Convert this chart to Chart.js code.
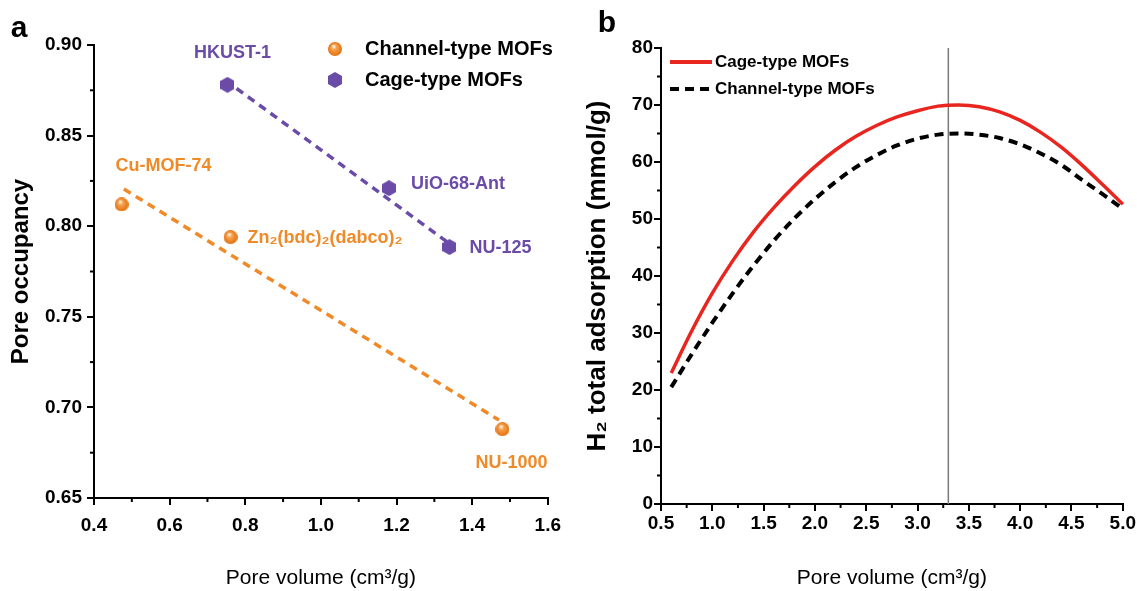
<!DOCTYPE html>
<html>
<head>
<meta charset="utf-8">
<script src="https://cdn.jsdelivr.net/npm/chart.js@4.4.1/dist/chart.umd.min.js"></script>
<style>
  html, body { margin: 0; padding: 0; background: #fff; }
  #wrap { position: relative; width: 1137px; height: 591px; }
  #chartA { position: absolute; left: 0; top: 0; }
  #chartB { position: absolute; left: 570px; top: 0; }
</style>
</head>
<body>
<div id="wrap">
  <canvas id="chartA" width="570" height="591"></canvas>
  <canvas id="chartB" width="567" height="591"></canvas>
</div>
<script>
// ── Panel a : pore occupancy vs pore volume ────────────────────────────────
const channelNames = ['Cu-MOF-74', 'Zn₂(bdc)₂(dabco)₂', 'NU-1000'];
const channelVol   = [0.473, 0.761, 1.48];
const channelOcc   = [0.812, 0.794, 0.688];
const cageNames    = ['HKUST-1', 'UiO-68-Ant', 'NU-125'];
const cageVol      = [0.753, 1.18, 1.34];
const cageOcc      = [0.878, 0.821, 0.7885];
// dashed trend lines (end points)
const channelFitVol = [0.479, 1.471];
const channelFitOcc = [0.8205, 0.693];
const cageFitVol    = [0.777, 1.336];
const cageFitOcc    = [0.876, 0.791];
const aTicksX = [0.4, 0.6, 0.8, 1.0, 1.2, 1.4, 1.6];
const aTicksY = [0.65, 0.70, 0.75, 0.80, 0.85, 0.90];

// ── Panel b : H2 total adsorption vs pore volume ───────────────────────────
const poreVol    = [0.6, 0.8, 1.0, 1.2, 1.4, 1.6, 1.8, 2.0, 2.2, 2.4, 2.6, 2.8,
                    3.0, 3.2, 3.4, 3.6, 3.8, 4.0, 4.2, 4.4, 4.6, 4.8, 5.0];
const cageAds    = [23.0, 30.4, 37.0, 42.7, 47.7, 52.0, 55.8, 59.2, 62.1, 64.5, 66.4, 67.9,
                    69.0, 69.8, 70.0, 69.7, 68.8, 67.3, 65.2, 62.6, 59.5, 56.1, 52.6];
const channelAds = [20.5, 26.3, 31.8, 37.0, 41.8, 46.2, 50.1, 53.5, 56.5, 59.1, 61.2, 62.9,
                    64.1, 64.8, 65.0, 64.8, 64.2, 63.1, 61.5, 59.5, 56.9, 54.4, 51.8];
const peakVol = 3.3;
const bTicksX = [0.5, 1.0, 1.5, 2.0, 2.5, 3.0, 3.5, 4.0, 4.5, 5.0];
const bTicksY = [0, 10, 20, 30, 40, 50, 60, 70, 80];

const FONT   = "'Liberation Sans', Arial, sans-serif";
const ORANGE = '#f08a28';
const PURPLE = '#6a4ba8';
const RED    = '#e8261f';

const xy = (xs, ys) => xs.map((x, i) => ({ x, y: ys[i] }));

// ── Marker images ──────────────────────────────────────────────────────────
function makeBall(r) {
  const c = document.createElement('canvas');
  c.width = c.height = 2 * r;
  const g = c.getContext('2d');
  const grad = g.createRadialGradient(r * 0.8, r * 0.6, r * 0.1, r, r, r);
  grad.addColorStop(0, '#fff1e0');
  grad.addColorStop(0.3, '#f7a14c');
  grad.addColorStop(1, '#e2700f');
  g.fillStyle = grad;
  g.beginPath(); g.arc(r, r, r, 0, Math.PI * 2); g.fill();
  return c;
}

function makeHex(w, h) {
  const c = document.createElement('canvas');
  c.width = w; c.height = h;
  const g = c.getContext('2d');
  g.fillStyle = PURPLE;
  g.beginPath();
  g.moveTo(w / 2, 0);
  g.lineTo(w, h * 0.25); g.lineTo(w, h * 0.75);
  g.lineTo(w / 2, h);
  g.lineTo(0, h * 0.75); g.lineTo(0, h * 0.25);
  g.closePath(); g.fill();
  return c;
}

const ballImg = makeBall(7);
const hexImg  = makeHex(14, 16);

// ── Plugins: minor ticks, point labels, legends, panel letters ─────────────
const extras = {
  id: 'extras',
  afterDraw(chart, args, opts) {
    const ctx = chart.ctx;
    const { x, y } = chart.scales;
    const area = chart.chartArea;
    ctx.save();

    // minor ticks, halfway between the major ones
    ctx.strokeStyle = '#000';
    ctx.lineWidth = 2;
    const mids = t => t.slice(1).map((v, i) => (v + t[i]) / 2);
    mids(opts.ticksX).forEach(v => {
      const px = x.getPixelForValue(v);
      ctx.beginPath(); ctx.moveTo(px, area.bottom); ctx.lineTo(px, area.bottom + 4); ctx.stroke();
    });
    mids(opts.ticksY).forEach(v => {
      const py = y.getPixelForValue(v);
      ctx.beginPath(); ctx.moveTo(area.left, py); ctx.lineTo(area.left - 4, py); ctx.stroke();
    });

    // point labels
    ctx.textBaseline = 'middle';
    (opts.labels || []).forEach(l => {
      const pt = chart.getDatasetMeta(l.ds).data[l.idx];
      ctx.font = 'bold 18px ' + FONT;
      ctx.fillStyle = l.color;
      ctx.textAlign = l.align;
      ctx.fillText(l.text, pt.x + l.dx, pt.y + l.dy);
    });

    // legend
    ctx.font = 'bold ' + opts.legendSize + 'px ' + FONT;
    ctx.textAlign = 'left';
    ctx.fillStyle = '#000';
    (opts.legend || []).forEach(item => {
      if (item.img) {
        ctx.drawImage(item.img, item.x - item.img.width / 2, item.y - item.img.height / 2);
      } else {
        ctx.strokeStyle = item.color;
        ctx.lineWidth = 4;
        ctx.setLineDash(item.dash || []);
        ctx.beginPath(); ctx.moveTo(item.x, item.y); ctx.lineTo(item.x2, item.y); ctx.stroke();
        ctx.setLineDash([]);
      }
      ctx.fillText(item.text, item.tx, item.y);
    });

    // panel letter
    ctx.font = 'bold ' + opts.letter.size + 'px ' + FONT;
    ctx.textAlign = 'center';
    ctx.fillText(opts.letter.text, opts.letter.x, opts.letter.y);
    ctx.restore();
  },
};

// ── Shared axis builder ────────────────────────────────────────────────────
function axis(ticks, fmt, title, o) {
  return {
    type: 'linear',
    min: ticks[0],
    max: ticks[ticks.length - 1],
    afterBuildTicks: s => { s.ticks = ticks.map(v => ({ value: v })); },
    afterFit: s => { if (o.width) s.width = o.width; if (o.height) s.height = o.height; },
    border: { display: true, color: '#000', width: 2 },
    grid: { drawOnChartArea: false, drawTicks: true, tickLength: 7, color: '#000', lineWidth: 2 },
    ticks: {
      color: '#000',
      padding: o.pad,
      autoSkip: false,
      maxRotation: 0,
      font: { family: FONT, size: 19, weight: 'bold' },
      callback: v => fmt(v),
    },
    title: {
      display: true,
      text: title,
      color: '#000',
      padding: o.titlePad,
      font: { family: FONT, size: o.titleSize, weight: o.titleWeight, lineHeight: 1.2 },
    },
  };
}

// ── Chart a ────────────────────────────────────────────────────────────────
new Chart(document.getElementById('chartA'), {
  type: 'scatter',
  data: {
    datasets: [
      { data: xy(channelVol, channelOcc), pointStyle: ballImg, order: 0 },
      { data: xy(cageVol, cageOcc), pointStyle: hexImg, order: 0 },
      { data: xy(channelFitVol, channelFitOcc), showLine: true, borderColor: ORANGE,
        borderWidth: 3.5, borderDash: [8, 6], pointRadius: 0, order: 1 },
      { data: xy(cageFitVol, cageFitOcc), showLine: true, borderColor: PURPLE,
        borderWidth: 3.5, borderDash: [8, 6], pointRadius: 0, order: 1 },
    ],
  },
  options: {
    responsive: false,
    animation: false,
    layout: { padding: { left: 0, top: 45, right: 21, bottom: 0 } },
    scales: {
      x: axis(aTicksX, v => v.toFixed(1), 'Pore volume (cm³/g)',
        { height: 93, pad: 9, titlePad: { bottom: 0 }, titleSize: 21, titleWeight: 'normal' }),
      y: axis(aTicksY, v => v.toFixed(2), 'Pore occupancy',
        { width: 94, pad: 5, titlePad: { top: 7 }, titleSize: 24, titleWeight: 'bold' }),
    },
    elements: { point: { radius: 7 } },
    plugins: {
      legend: { display: false },
      tooltip: { enabled: false },
      extras: {
        ticksX: aTicksX,
        ticksY: aTicksY,
        legendSize: 20,
        labels: [
          { ds: 0, idx: 0, text: channelNames[0], color: ORANGE, align: 'center', dx: 42, dy: -38 },
          { ds: 0, idx: 1, text: channelNames[1], color: ORANGE, align: 'left',   dx: 17, dy: 1 },
          { ds: 0, idx: 2, text: channelNames[2], color: ORANGE, align: 'center', dx: 9,  dy: 34 },
          { ds: 1, idx: 0, text: cageNames[0],    color: PURPLE, align: 'center', dx: 5,  dy: -32 },
          { ds: 1, idx: 1, text: cageNames[1],    color: PURPLE, align: 'left',   dx: 22, dy: -4 },
          { ds: 1, idx: 2, text: cageNames[2],    color: PURPLE, align: 'left',   dx: 20, dy: 1 },
        ],
        legend: [
          { img: ballImg, x: 335, y: 49, tx: 365, text: 'Channel-type MOFs' },
          { img: hexImg,  x: 335, y: 80, tx: 365, text: 'Cage-type MOFs' },
        ],
        letter: { text: 'a', x: 19, y: 29, size: 30 },
      },
    },
  },
  plugins: [extras],
});

// ── Chart b ────────────────────────────────────────────────────────────────
new Chart(document.getElementById('chartB'), {
  type: 'scatter',
  data: {
    datasets: [
      { data: xy(poreVol, channelAds), showLine: true, borderColor: '#000', borderWidth: 4,
        borderDash: [9, 6], pointRadius: 0, cubicInterpolationMode: 'monotone', clip: false, order: 0 },
      { data: xy(poreVol, cageAds), showLine: true, borderColor: RED, borderWidth: 3.5,
        pointRadius: 0, cubicInterpolationMode: 'monotone', clip: false, order: 1 },
      { data: xy([peakVol, peakVol], [bTicksY[0], bTicksY[bTicksY.length - 1]]), showLine: true,
        borderColor: '#7a7a7a', borderWidth: 1.5, pointRadius: 0, order: 2 },
    ],
  },
  options: {
    responsive: false,
    animation: false,
    layout: { padding: { left: 0, top: 48, right: 14, bottom: 0 } },
    scales: {
      x: axis(bTicksX, v => v.toFixed(1), 'Pore volume (cm³/g)',
        { height: 87, pad: 1, titlePad: { bottom: 0 }, titleSize: 21, titleWeight: 'normal' }),
      y: axis(bTicksY, v => String(v), 'H₂ total adsorption (mmol/g)',
        { width: 91, pad: 1, titlePad: { top: 12 }, titleSize: 26, titleWeight: 'bold' }),
    },
    plugins: {
      legend: { display: false },
      tooltip: { enabled: false },
      extras: {
        ticksX: bTicksX,
        ticksY: bTicksY,
        legendSize: 17,
        legend: [
          { color: RED, x: 100, x2: 142, y: 62, tx: 145, text: 'Cage-type MOFs' },
          { color: '#000', dash: [9, 6], x: 100, x2: 142, y: 89, tx: 145, text: 'Channel-type MOFs' },
        ],
        letter: { text: 'b', x: 37, y: 24, size: 30 },
      },
    },
  },
  plugins: [extras],
});
</script>
</body>
</html>
